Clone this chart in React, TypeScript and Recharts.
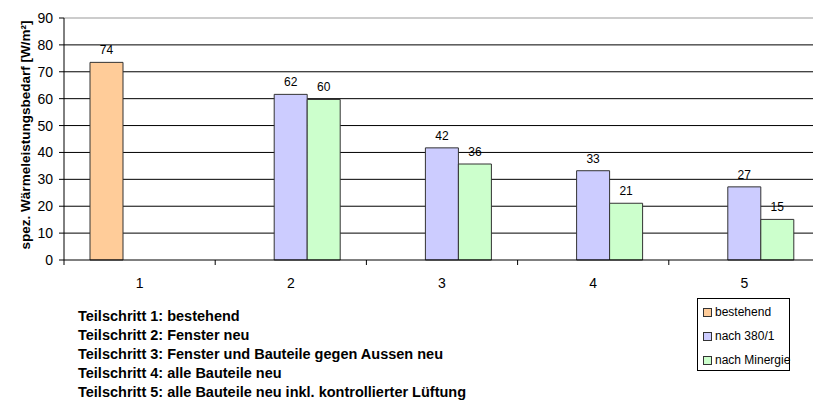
import React from "react"
import { BarChart, Bar, XAxis, YAxis, CartesianGrid, Legend, LabelList, ReferenceLine } from "recharts"

// Teilschritte und Werte (W/m²)
const steps = ["1", "2", "3", "4", "5"]
const bestehend = [73.5, null, null, null, null]
const nach380 = [null, 61.6, 41.7, 33.2, 27.2]
const nachMinergie = [null, 59.7, 35.7, 21.1, 15.1]
const yTicks = [0, 10, 20, 30, 40, 50, 60, 70, 80, 90]
const gridValues = [10, 20, 30, 40, 50, 60, 70, 80]

const seriesNames = ["bestehend", "nach 380/1", "nach Minergie"]
const seriesColors = ["#FFCC99", "#CCCCFF", "#CCFFCC"]

const notes = [
  "Teilschritt 1: bestehend",
  "Teilschritt 2: Fenster neu",
  "Teilschritt 3: Fenster und Bauteile gegen Aussen neu",
  "Teilschritt 4: alle Bauteile neu",
  "Teilschritt 5: alle Bauteile neu inkl. kontrollierter Lüftung",
]

const yLabel = "spez. Wärmeleistungsbedarf [W/m²]"

const data = steps.map((s, i) => ({
  step: s,
  bestehend: bestehend[i],
  nach380: nach380[i],
  nachMinergie: nachMinergie[i],
}))

const FONT = "'Liberation Sans', Arial, Helvetica, sans-serif"
const CHART_W = 830
const CHART_H = 403
const PLOT_LEFT = 64
const PLOT_RIGHT = 820
const catW = (PLOT_RIGHT - PLOT_LEFT) / steps.length

const fmt = (v: any) => (v == null ? "" : String(Math.round(Number(v))))

function StepTick(props: any) {
  const { x, y, payload } = props
  return (
    <g>
      <line x1={x - catW / 2} x2={x - catW / 2} y1={y} y2={y + 5} stroke="#000" />
      <text x={x} y={y + 28} textAnchor="middle" fontSize={14} fontFamily={FONT} fill="#000">
        {payload.value}
      </text>
    </g>
  )
}

function LegendBox() {
  return (
    <div
      style={{
        width: 93,
        height: 73,
        border: "1px solid #000",
        background: "#fff",
        boxSizing: "border-box",
        position: "relative",
        fontFamily: FONT,
        fontSize: 12,
        color: "#000",
      }}
    >
      {seriesNames.map((n, i) => (
        <div
          key={n}
          style={{
            position: "absolute",
            left: 5,
            top: 5 + i * 24,
            height: 16,
            lineHeight: "16px",
            display: "flex",
            alignItems: "center",
            whiteSpace: "nowrap",
          }}
        >
          <span
            style={{
              display: "inline-block",
              width: 7,
              height: 7,
              border: "1px solid #333",
              background: seriesColors[i],
              marginRight: 3,
            }}
          />
          {n}
        </div>
      ))}
    </div>
  )
}

export default function App() {
  return (
    <div
      style={{
        position: "fixed",
        left: 0,
        top: 0,
        width: 813,
        height: 403,
        overflow: "hidden",
        background: "#fff",
      }}
    >
      <BarChart
        width={CHART_W}
        height={CHART_H}
        data={data}
        margin={{ top: 18, right: CHART_W - PLOT_RIGHT, left: 0, bottom: CHART_H - 260 - 30 }}
        barCategoryGap={26}
        barGap={0}
      >
        <CartesianGrid vertical={false} stroke="#000" horizontalValues={gridValues} />
        <ReferenceLine y={90} stroke="#999" />
        <XAxis
          dataKey="step"
          height={30}
          axisLine={{ stroke: "#000" }}
          tickLine={false}
          tickSize={0}
          tickMargin={0}
          tick={<StepTick />}
          interval={0}
        />
        <YAxis
          width={PLOT_LEFT}
          domain={[0, 90]}
          ticks={yTicks}
          interval={0}
          axisLine={{ stroke: "#000" }}
          tickLine={{ stroke: "#000" }}
          tickSize={5}
          tickMargin={6}
          tick={{ fontSize: 14, fontFamily: FONT, fill: "#000" }}
          label={{
            value: yLabel,
            angle: -90,
            position: "center",
            dx: -7,
            dy: -4,
            style: { fontSize: 13.5, fontWeight: "bold", fontFamily: FONT, fill: "#000" },
          }}
        />
        <Legend
          layout="vertical"
          align="center"
          verticalAlign="middle"
          content={() => <LegendBox />}
          wrapperStyle={{ position: "absolute", left: 697, top: 298, width: 93, height: 73 }}
        />
        <Bar dataKey="bestehend" name={seriesNames[0]} fill={seriesColors[0]} stroke="#333" isAnimationActive={false}>
          <LabelList dataKey="bestehend" position="top" offset={8} formatter={fmt} fontSize={12} fontFamily={FONT} fill="#000" />
        </Bar>
        <Bar dataKey="nach380" name={seriesNames[1]} fill={seriesColors[1]} stroke="#333" isAnimationActive={false}>
          <LabelList dataKey="nach380" position="top" offset={8} formatter={fmt} fontSize={12} fontFamily={FONT} fill="#000" />
        </Bar>
        <Bar dataKey="nachMinergie" name={seriesNames[2]} fill={seriesColors[2]} stroke="#333" isAnimationActive={false}>
          <LabelList dataKey="nachMinergie" position="top" offset={8} formatter={fmt} fontSize={12} fontFamily={FONT} fill="#000" />
        </Bar>
      </BarChart>
      <div
        style={{
          position: "absolute",
          left: 78,
          top: 307,
          fontFamily: FONT,
          fontSize: 14.5,
          fontWeight: "bold",
          lineHeight: "19px",
          color: "#000",
          whiteSpace: "nowrap",
        }}
      >
        {notes.map((n) => (
          <div key={n}>{n}</div>
        ))}
      </div>
    </div>
  )
}
